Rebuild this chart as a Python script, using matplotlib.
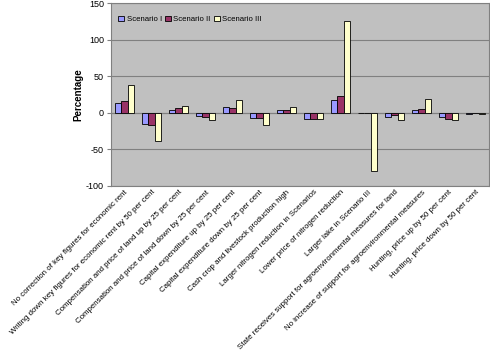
import numpy as np
import matplotlib
matplotlib.use('Agg')
import matplotlib.pyplot as plt

plt.rcParams['font.family'] = ['Liberation Sans', 'DejaVu Sans']
plt.rcParams['axes.unicode_minus'] = False

categories = [
    'No correction of key figures for economic rent',
    'Writing down key figures for economic rent by 50 per cent',
    'Compensation and price of land up by 25 per cent',
    'Compensation and price of land down by 25 per cent',
    'Capital expenditure up by 25 per cent',
    'Capital expenditure down by 25 per cent',
    'Cash crop and livestock production high',
    'Larger nitrogen reduction in Scenarios',
    'Lower price of nitrogen reduction',
    'Larger lake in Scenario III',
    'State receives support for agroenvironmental measures for land',
    'No increase of support for agroenvironmental measures',
    'Hunting, price up by 50 per cent',
    'Hunting, price down by 50 per cent',
]
scenario_1 = [14, -15.5, 3.5, -4.5, 7.5, -7.5, 4, -8, 18, 0, -5.5, 4, -5.5, -1.5]
scenario_2 = [15.5, -17, 6, -5.5, 7, -7, 4, -9, 22.5, 0, -3, 5.5, -9, -0.3]
scenario_3 = [38, -38, 9.5, -10.5, 17, -17, 8, -9, 125, -79, -10.5, 19, -10, -1.5]
series_names = ['Scenario I', 'Scenario II', 'Scenario III']
colors = ['#9999FF', '#993366', '#FFFFCC']

fig = plt.figure(figsize=(4.9, 3.57), dpi=100)
ax = fig.add_axes([0.2265, 0.479, 0.7715, 0.5125])
ax.set_facecolor('#C0C0C0')

x = np.arange(len(categories))
w = 0.23
for i, (vals, name, c) in enumerate(zip([scenario_1, scenario_2, scenario_3],
                                        series_names, colors)):
    ax.bar(x + (i - 1) * w, vals, w, color=c, edgecolor='black',
           linewidth=0.6, label=name, zorder=3)

ax.set_xlim(-0.5, len(categories) - 0.5)
ax.set_ylim(-100, 150)
ax.set_yticks(np.arange(-100, 151, 50))
ax.yaxis.grid(True, color='#808080', linewidth=0.8, zorder=0)
ax.axhline(0, color='#808080', linewidth=0.8, zorder=1)
for s in ax.spines.values():
    s.set_color('#808080')
ax.tick_params(axis='y', labelsize=6.5, length=3, color='#808080', pad=2)
ax.tick_params(axis='x', length=0, pad=2)
ax.set_xticks(x)
ax.set_xticklabels(categories, rotation=45, ha='right', rotation_mode='anchor',
                   fontsize=5.7)
ax.set_ylabel('Percentage', fontsize=7, fontweight='bold', labelpad=2)

leg = ax.legend(loc='upper left', ncol=3, frameon=False, fontsize=5.6,
                handlelength=0.8, handleheight=0.8, handletextpad=0.3,
                columnspacing=0.4, borderaxespad=0.5,
                bbox_to_anchor=(0.0, 0.97))

fig.savefig('out.png', dpi=100)
